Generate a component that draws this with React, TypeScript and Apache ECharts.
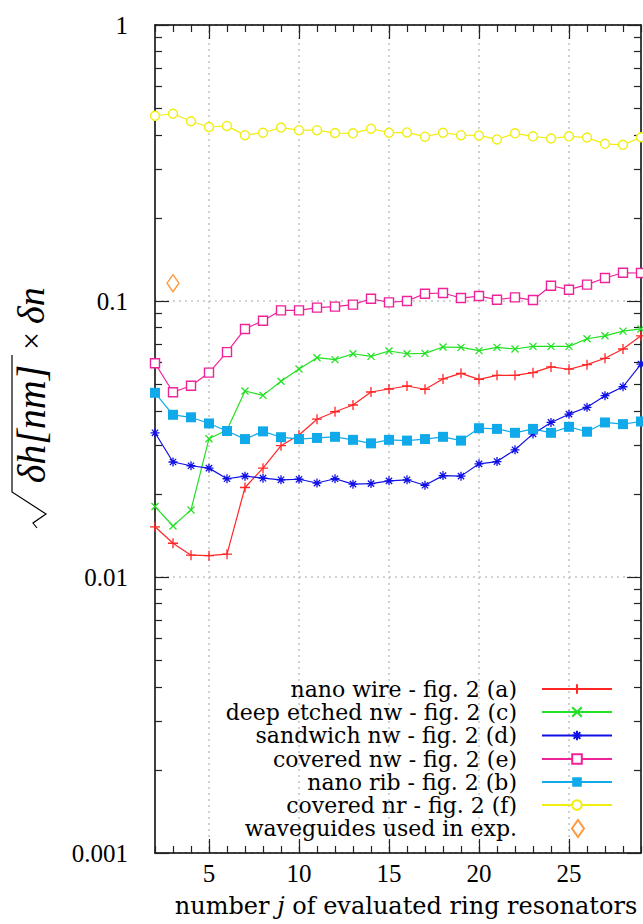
import { useEffect, useRef } from 'react';
import * as echarts from 'echarts';

// ---- data ----
const J = [2, 3, 4, 5, 6, 7, 8, 9, 10, 11, 12, 13, 14, 15, 16, 17, 18, 19, 20, 21, 22, 23, 24, 25, 26, 27, 28, 29];

const NANO_WIRE = [0.0152, 0.01325, 0.012, 0.01195, 0.0121, 0.0211, 0.0248, 0.0299, 0.0327, 0.0373, 0.0397, 0.042, 0.0468, 0.048, 0.0492, 0.0479, 0.0522, 0.0547, 0.052, 0.0538, 0.0538, 0.055, 0.0577, 0.0566, 0.0588, 0.062, 0.067, 0.0748];
const DEEP_ETCHED = [0.018, 0.0153, 0.0175, 0.0317, 0.0341, 0.0472, 0.0455, 0.0512, 0.0567, 0.0623, 0.0613, 0.0644, 0.063, 0.0659, 0.0644, 0.0646, 0.0681, 0.0679, 0.0661, 0.0679, 0.067, 0.0685, 0.0685, 0.0685, 0.073, 0.0748, 0.0778, 0.0792];
const SANDWICH = [0.0333, 0.0261, 0.0253, 0.0248, 0.0227, 0.0232, 0.0228, 0.0225, 0.0226, 0.0219, 0.0227, 0.0217, 0.0218, 0.0223, 0.0225, 0.0215, 0.0233, 0.0232, 0.0257, 0.0262, 0.0289, 0.033, 0.0363, 0.0389, 0.0412, 0.0454, 0.0489, 0.0591];
const COVERED_NW = [0.0595, 0.0467, 0.0493, 0.055, 0.0653, 0.0792, 0.0848, 0.0925, 0.0925, 0.0946, 0.0954, 0.097, 0.1019, 0.0989, 0.1, 0.1063, 0.1069, 0.1025, 0.1042, 0.1011, 0.1031, 0.1008, 0.1136, 0.1099, 0.1146, 0.1212, 0.1266, 0.1263];
const NANO_RIB = [0.0465, 0.0387, 0.0379, 0.036, 0.0338, 0.0316, 0.0337, 0.0321, 0.0316, 0.0319, 0.0322, 0.0314, 0.0305, 0.0314, 0.0312, 0.0316, 0.0322, 0.0312, 0.0346, 0.0344, 0.0333, 0.0344, 0.0333, 0.035, 0.0336, 0.0363, 0.0358, 0.0366];
const COVERED_NR = [0.469, 0.477, 0.448, 0.427, 0.431, 0.399, 0.407, 0.425, 0.416, 0.416, 0.406, 0.405, 0.421, 0.407, 0.408, 0.394, 0.407, 0.399, 0.398, 0.385, 0.405, 0.395, 0.388, 0.395, 0.391, 0.371, 0.368, 0.392];
const EXP_J = [3];
const EXP_VALUES = [0.116];

const SERIES_NAMES = [
  'nano wire - fig. 2 (a)',
  'deep etched nw - fig. 2 (c)',
  'sandwich nw - fig. 2 (d)',
  'covered nw - fig. 2 (e)',
  'nano rib - fig. 2 (b)',
  'covered nr - fig. 2 (f)',
  'waveguides used in exp.',
];

const X_MAJOR = [5, 10, 15, 20, 25];
const Y_MAJOR = [0.001, 0.01, 0.1, 1];
const Y_LABELS = ['0.001', '0.01', '0.1', '1'];
const MINOR_MULT = [2, 3, 4, 5, 6, 7, 8, 9];
const DECADES = [-3, -2, -1];

// ---- styles ----
const COLORS = ['#ff2626', '#22e022', '#1010e6', '#ee2299', '#10aaea', '#f0ee10', '#ff8010'];
const ROW_CENTERS = [689, 712, 735.5, 759, 782, 805, 828.5];
const WORD_FONT = 'DejaVu Serif';
const NUM_FONT = 'Liberation Serif';

const LOG_MINOR = DECADES.flatMap((d) => MINOR_MULT.map((k) => Math.log10(k) + d));

function pairs(vals: number[]) {
  return J.map((j, i) => [j, vals[i]]);
}

function yLabel(v: number) {
  const i = Y_MAJOR.findIndex((m) => Math.abs(Math.log10(m) - Math.log10(v)) < 1e-6);
  return i >= 0 ? Y_LABELS[i] : '';
}

const tickLine = { color: '#222', width: 1.2 };
const frameLine = { color: '#000', width: 1.5 };

export default function App() {
  const ref = useRef<HTMLDivElement>(null);
  useEffect(() => {
    if (!ref.current) return;
    const chart = echarts.init(ref.current, null, { renderer: 'svg' });

    const lineSeries = (idx: number, vals: number[], symbol: string, size: number, itemStyle: any) => ({
      type: 'line',
      name: SERIES_NAMES[idx],
      data: pairs(vals),
      symbol,
      symbolSize: size,
      itemStyle,
      lineStyle: { color: COLORS[idx], width: 1.2 },
      emphasis: { disabled: true },
      z: 2 + idx,
    });

    const strokeSym = (idx: number) => ({ color: COLORS[idx], borderColor: COLORS[idx], borderWidth: 1.3 });
    const openSym = (idx: number) => ({ color: '#fff', borderColor: COLORS[idx], borderWidth: 1.4 });

    const legends = SERIES_NAMES.map((name, i) => {
      const isExp = i === 6;
      return {
        data: [name],
        orient: 'horizontal',
        align: 'right',
        right: isExp ? 58 : 30,
        top: ROW_CENTERS[i] - 11,
        itemWidth: isExp ? 12 : 70,
        itemHeight: isExp ? 17 : 12,
        padding: 0,
        itemGap: 0,
        selectedMode: false,
        textStyle: {
          fontFamily: WORD_FONT,
          fontSize: 22,
          color: '#000',
          padding: [0, isExp ? 50 : 20, 0, 0],
        },
      };
    });

    const option: any = {
      animation: false,
      backgroundColor: '#fff',
      grid: { left: 155, right: 2, top: 25, bottom: 71, containLabel: false, outerBoundsMode: 'none' },
      legend: legends,
      xAxis: [
        {
          type: 'value', min: 2, max: 29, position: 'bottom',
          axisLine: { show: true, onZero: false, lineStyle: frameLine },
          axisTick: { show: true, inside: true, length: 14, customValues: X_MAJOR, lineStyle: tickLine },
          axisLabel: { show: true, customValues: X_MAJOR, margin: 8, fontFamily: NUM_FONT, fontSize: 25, color: '#000' },
          splitLine: { show: true, lineStyle: { color: '#c4c4c4', type: [2, 4], width: 1.5 } },
        },
        {
          type: 'value', min: 2, max: 29, interval: 1, position: 'bottom',
          axisLine: { show: false, onZero: false },
          axisTick: { show: true, inside: true, length: 7, lineStyle: tickLine },
          axisLabel: { show: false },
          splitLine: { show: false },
        },
        {
          type: 'value', min: 2, max: 29, position: 'top',
          axisLine: { show: true, onZero: false, lineStyle: frameLine },
          axisTick: { show: true, inside: true, length: 14, customValues: X_MAJOR, lineStyle: tickLine },
          axisLabel: { show: false },
          splitLine: { show: false },
        },
        {
          type: 'value', min: 2, max: 29, interval: 1, position: 'top',
          axisLine: { show: false, onZero: false },
          axisTick: { show: true, inside: true, length: 7, lineStyle: tickLine },
          axisLabel: { show: false },
          splitLine: { show: false },
        },
      ],
      yAxis: [
        {
          type: 'log', logBase: 10, min: 0.001, max: 1, position: 'left',
          axisLine: { show: true, onZero: false, lineStyle: frameLine },
          axisTick: { show: true, inside: true, length: 14, lineStyle: tickLine },
          axisLabel: { show: true, margin: 27, fontFamily: NUM_FONT, fontSize: 25, color: '#000', formatter: yLabel },
          splitLine: { show: true, lineStyle: { color: '#c4c4c4', type: [2, 4], width: 1.5 } },
        },
        {
          type: 'value', min: -3, max: 0, position: 'left',
          axisLine: { show: false, onZero: false },
          axisTick: { show: true, inside: true, length: 7, customValues: LOG_MINOR, lineStyle: tickLine },
          axisLabel: { show: false },
          splitLine: { show: false },
        },
        {
          type: 'log', logBase: 10, min: 0.001, max: 1, position: 'right',
          axisLine: { show: true, onZero: false, lineStyle: frameLine },
          axisTick: { show: true, inside: true, length: 14, lineStyle: tickLine },
          axisLabel: { show: false },
          splitLine: { show: false },
        },
        {
          type: 'value', min: -3, max: 0, position: 'right',
          axisLine: { show: false, onZero: false },
          axisTick: { show: true, inside: true, length: 7, customValues: LOG_MINOR, lineStyle: tickLine },
          axisLabel: { show: false },
          splitLine: { show: false },
        },
      ],
      series: [
        lineSeries(0, NANO_WIRE, 'path://M0,-1L0,1M-1,0L1,0', 10, strokeSym(0)),
        lineSeries(1, DEEP_ETCHED, 'path://M-1,-1L1,1M-1,1L1,-1', 7, strokeSym(1)),
        lineSeries(2, SANDWICH, 'path://M0,-1L0,1M-1,0L1,0M-0.7,-0.7L0.7,0.7M-0.7,0.7L0.7,-0.7', 9, strokeSym(2)),
        lineSeries(3, COVERED_NW, 'rect', 9, openSym(3)),
        lineSeries(4, NANO_RIB, 'rect', 10, { color: COLORS[4] }),
        lineSeries(5, COVERED_NR, 'circle', 9, openSym(5)),
        {
          type: 'scatter',
          name: SERIES_NAMES[6],
          data: EXP_J.map((j, i) => [j, EXP_VALUES[i]]),
          symbol: 'diamond',
          symbolSize: [12, 17],
          itemStyle: openSym(6),
          emphasis: { disabled: true },
          z: 9,
        },
      ],
      graphic: [
        {
          type: 'text',
          x: 406,
          y: 906,
          style: {
            text: 'number {i|j} of evaluated ring resonators',
            fontFamily: WORD_FONT,
            fontSize: 24,
            fill: '#000',
            align: 'center',
            verticalAlign: 'middle',
            rich: { i: { fontFamily: WORD_FONT, fontSize: 24, fontStyle: 'italic', fill: '#000' } },
          },
        },
        {
          type: 'group',
          x: 38,
          y: 410,
          rotation: Math.PI / 2,
          children: [
            {
              type: 'polyline',
              shape: { points: [[-118, -1], [-113, -5], [-104, 8], [-82, -26], [55, -26]] },
              style: { stroke: '#000', lineWidth: 1.2, fill: 'none' },
            },
            {
              type: 'text',
              x: -14,
              y: -7,
              style: {
                text: 'δh[nm]',
                fontFamily: NUM_FONT,
                fontStyle: 'italic',
                fontSize: 40,
                fill: '#000',
                align: 'center',
                verticalAlign: 'middle',
              },
            },
            {
              type: 'text',
              x: 60,
              y: -7,
              style: {
                text: '{u|×} {i|δn}',
                fontFamily: NUM_FONT,
                fontSize: 32,
                fill: '#000',
                align: 'left',
                verticalAlign: 'middle',
                rich: {
                  u: { fontFamily: NUM_FONT, fontSize: 32, fill: '#000' },
                  i: { fontFamily: NUM_FONT, fontSize: 38, fontStyle: 'italic', fill: '#000' },
                },
              },
            },
          ],
        },
      ],
    };

    chart.setOption(option);
    return () => chart.dispose();
  }, []);

  return <div ref={ref} style={{ position: 'fixed', left: 0, top: 0, width: 643, height: 924 }} />;
}
